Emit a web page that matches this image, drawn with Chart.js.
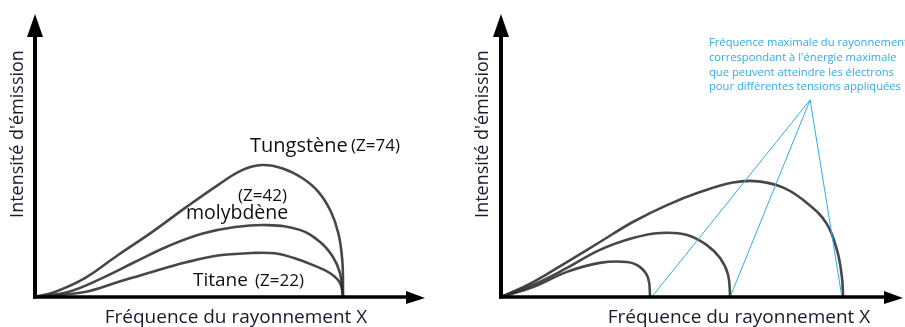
<!DOCTYPE html>
<html>
<head>
<meta charset="utf-8">
<script src="https://cdn.jsdelivr.net/npm/chart.js@4.4.1/dist/chart.umd.min.js"></script>
<style>
  html, body { margin:0; padding:0; background:#fff; }
  #wrap { display:flex; width:905px; height:327px; }
  canvas { display:block; }
</style>
</head>
<body>
<div id="wrap">
  <canvas id="cLeft" width="452" height="327"></canvas>
  <canvas id="cRight" width="453" height="327"></canvas>
</div>
<script>
// Left panel: same tension, three anode materials (arbitrary units, 0-100)
var tungFreq = [0, 5.1, 12.8, 21.3, 30.0, 38.5, 46.9, 53.1, 58.2, 63.5, 68.5, 72.6, 75.8, 77.8, 78.8, 79.0];
var tungInt  = [0, 1.8, 6.7, 14.9, 23.0, 31.6, 39.7, 45.0, 46.8, 45.6, 42.2, 37.4, 30.5, 22.5, 12.8, 0];
var molyFreq = [0, 8.5, 17.2, 25.6, 34.1, 42.8, 51.3, 59.7, 67.9, 73.1, 76.4, 78.2, 79.0];
var molyInt  = [0, 1.8, 6.7, 12.4, 18.0, 22.4, 24.8, 25.5, 23.8, 19.5, 14.2, 8.5, 0];
var titFreq  = [0, 12.8, 21.3, 30.0, 38.5, 46.9, 55.6, 61.5, 66.2, 71.3, 75.6, 78.2, 79.0];
var titInt   = [0, 1.8, 5.3, 8.9, 12.2, 14.7, 15.6, 15.5, 13.9, 11.3, 8.5, 5.0, 0];

// Right panel: same anode, three tensions
var lowFreq  = [0, 8.0, 16.4, 24.6, 31.3, 34.6, 36.6, 37.1];
var lowInt   = [0, 3.5, 8.9, 12.1, 12.4, 10.6, 6.7, 0];
var midFreq  = [0, 8.0, 16.4, 24.6, 32.8, 39.6, 46.3, 51.2, 54.5, 56.5, 57.0];
var midInt   = [0, 4.3, 10.3, 16.7, 20.9, 22.7, 22.0, 18.4, 13.8, 7.8, 0];
var highFreq = [0, 8.0, 16.4, 24.6, 32.8, 41.3, 49.5, 57.7, 64.0, 70.5, 76.4, 81.0, 83.6, 84.8, 85.1];
var highInt  = [0, 5.3, 12.4, 19.5, 26.6, 32.6, 37.2, 40.6, 41.0, 38.6, 33.0, 26.0, 16.5, 7.1, 0];

// blue pointer lines: feet on the axis (max frequency) and common apex
var cutoffFreq = [37.5, 57.0, 84.8];
var apexFreq = 76.9, apexInt = 69.9;

var noteLines = [
  'Fréquence maximale du rayonnement',
  'correspondant à l\'énergie maximale',
  'que peuvent atteindre les électrons',
  'pour différentes tensions appliquées'
];

function pts(xs, ys) {
  return xs.map(function (x, i) { return { x: x, y: ys[i] }; });
}

var curveStyle = {
  borderColor: 'rgba(45,45,45,0.88)', borderWidth: 2.6, pointRadius: 0,
  showLine: true, fill: false, tension: 0.4
};
function curve(data) { return Object.assign({ data: data }, curveStyle); }

// axes with arrow heads + free text
var axesPlugin = {
  id: 'axesArrows',
  afterDatasetsDraw: function (chart, args, opts) {
    var ctx = chart.ctx, a = chart.chartArea;
    var x0 = a.left, y0 = a.bottom;
    ctx.save();
    ctx.fillStyle = '#000'; ctx.strokeStyle = '#000';
    // y axis
    ctx.lineWidth = 4;
    ctx.beginPath(); ctx.moveTo(x0, y0 + 1.5); ctx.lineTo(x0, a.top + 18); ctx.stroke();
    ctx.beginPath(); ctx.moveTo(x0, a.top - 1); ctx.lineTo(x0 - 8, a.top + 22); ctx.lineTo(x0 + 8, a.top + 22); ctx.closePath(); ctx.fill();
    // x axis
    ctx.lineWidth = 3.5;
    ctx.beginPath(); ctx.moveTo(x0 - 2, y0); ctx.lineTo(a.right - 14, y0); ctx.stroke();
    ctx.beginPath(); ctx.moveTo(a.right, y0 + 1); ctx.lineTo(a.right - 19, y0 - 6); ctx.lineTo(a.right - 19, y0 + 7); ctx.closePath(); ctx.fill();

    // texts
    (opts.texts || []).forEach(function (t) {
      ctx.save();
      ctx.font = t.font; ctx.fillStyle = t.color || '#111';
      ctx.textAlign = t.align || 'left'; ctx.textBaseline = 'middle';
      ctx.translate(t.x, t.y);
      if (t.rot) ctx.rotate(t.rot);
      ctx.fillText(t.text, 0, 0);
      ctx.restore();
    });
    ctx.restore();
  }
};

var yTitleFont = '18px "Open Sans"';
var xTitleFont = '19px "Open Sans"';
function baseOptions(pad, texts) {
  return {
    responsive: false, animation: false,
    layout: { padding: pad },
    plugins: { legend: { display: false }, tooltip: { enabled: false }, axesArrows: { texts: texts } },
    scales: {
      x: { type: 'linear', min: 0, max: 100, display: false },
      y: { type: 'linear', min: 0, max: 100, display: false }
    }
  };
}

new Chart(document.getElementById('cLeft'), {
  type: 'scatter',
  data: { datasets: [ curve(pts(tungFreq, tungInt)), curve(pts(molyFreq, molyInt)), curve(pts(titFreq, titInt)) ] },
  options: baseOptions({ left: 35, right: 27, top: 15, bottom: 30 }, [
    { text: 'Intensité d\'émission', x: 18, y: 134, rot: -Math.PI / 2, align: 'center', font: yTitleFont, color: '#1a1a2e' },
    { text: 'Fréquence du rayonnement X', x: 236, y: 318, align: 'center', font: xTitleFont, color: '#1a1a2e' },
    { text: 'Tungstène', x: 250, y: 146, font: '20px "Open Sans"' },
    { text: '(Z=74)', x: 351, y: 146, font: '17px "Open Sans"' },
    { text: '(Z=42)', x: 238, y: 196, font: '17px "Open Sans"' },
    { text: 'molybdène', x: 186, y: 213, font: '19.5px "Open Sans"' },
    { text: 'Titane', x: 193, y: 281, font: '19px "Open Sans"' },
    { text: '(Z=22)', x: 255, y: 281, font: '17px "Open Sans"' }
  ]),
  plugins: [axesPlugin]
});

var blueStyle = { borderColor: '#33abe2', borderWidth: 1, pointRadius: 0, showLine: true, fill: false, tension: 0 };
var blueSets = cutoffFreq.map(function (f) {
  return Object.assign({ data: [{ x: f, y: 0 }, { x: apexFreq, y: apexInt }] }, blueStyle);
});

var noteTexts = noteLines.map(function (s, i) {
  return { text: s, x: 257, y: 43 + i * 14.7, font: '11.2px "Open Sans"', color: '#33abe2' };
});

new Chart(document.getElementById('cRight'), {
  type: 'scatter',
  data: { datasets: blueSets.concat([ curve(pts(lowFreq, lowInt)), curve(pts(midFreq, midInt)), curve(pts(highFreq, highInt)) ]) },
  options: baseOptions({ left: 49, right: 2, top: 15, bottom: 30 }, [
    { text: 'Intensité d\'émission', x: 31, y: 134, rot: -Math.PI / 2, align: 'center', font: yTitleFont, color: '#1a1a2e' },
    { text: 'Fréquence du rayonnement X', x: 287, y: 318, align: 'center', font: xTitleFont, color: '#1a1a2e' }
  ].concat(noteTexts)),
  plugins: [axesPlugin]
});
</script>
</body>
</html>
